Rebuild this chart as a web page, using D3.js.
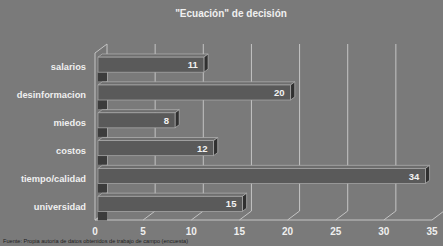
<!DOCTYPE html>
<html>
<head>
<meta charset="utf-8">
<script src="https://cdn.jsdelivr.net/npm/d3@7"></script>
<style>
  body { margin: 0; background: #7a7a7a; }
  svg { display: block; }
  text { font-family: "Liberation Sans", Arial, sans-serif; }
</style>
</head>
<body>
<svg id="chart" width="443" height="246"></svg>
<script>
// data
var categories = ["salarios", "desinformacion", "miedos", "costos", "tiempo/calidad", "universidad"]
var values = [11, 20, 8, 12, 34, 15]
var xTicks = [0, 5, 10, 15, 20, 25, 30, 35]
var title = "\"Ecuación\" de decisión"
var source = "Fuente: Propia autoría de datos obtenidos de trabajo de campo (encuesta)"

var svg = d3.select("#chart")

// front plane scales, depth goes back up-right
var x = d3.scaleLinear().domain([0, 35]).range([95, 432])
var y = d3.scaleBand().domain(categories).range([53, 220])
    .paddingInner(0.46).paddingOuter(0.23)
var depth = { dx: 12, dy: -9 }

function off(t) { return [depth.dx * t, depth.dy * t] }
function pts(arr) { return arr.map(p => p.join(",")).join(" ") }

var floorY = 220, topY = 53
var back = off(1)

// back wall gridlines + floor diagonals
var grid = svg.append("g").attr("stroke", "#c4c4c4").attr("stroke-width", 1).attr("fill", "none")
xTicks.forEach(v => {
    var xf = x(v), xb = x(v) + back[0]
    if (v > 0) {
        grid.append("line").attr("x1", xb).attr("x2", xb)
            .attr("y1", topY + back[1]).attr("y2", floorY + back[1])
    }
    grid.append("line").attr("x1", xf).attr("y1", floorY)
        .attr("x2", xb).attr("y2", floorY + back[1])
})
// floor front edge
grid.append("line").attr("x1", x(0)).attr("x2", x(35)).attr("y1", floorY).attr("y2", floorY)
// left wall
grid.append("polygon")
    .attr("points", pts([[x(0), floorY], [x(0), topY], [x(0) + back[0], topY + back[1]], [x(0) + back[0], floorY + back[1]]]))
    .attr("fill", "#767676")

// bars
var t0 = 0.25, t1 = 0.6
var f = off(t0), b = off(t1)
var bars = svg.append("g")
categories.forEach((c, i) => {
    var xs = x(0) + f[0], xe = x(values[i]) + f[0]
    var yt = y(c) + f[1], yb = y(c) + y.bandwidth() + f[1]
    var ddx = b[0] - f[0], ddy = b[1] - f[1]
    // shadow on the wall
    bars.append("rect").attr("x", xs).attr("y", yb)
        .attr("width", x(0) + back[0] - xs).attr("height", 9)
        .attr("fill", "#3c3c3c")
    // top face
    bars.append("polygon")
        .attr("points", pts([[xs, yt], [xs + ddx, yt + ddy], [xe + ddx, yt + ddy], [xe, yt]]))
        .attr("fill", "#6e6e6e").attr("stroke", "#b4b4b4").attr("stroke-width", 0.7)
    // end face
    bars.append("polygon")
        .attr("points", pts([[xe, yt], [xe + ddx, yt + ddy], [xe + ddx, yb + ddy], [xe, yb]]))
        .attr("fill", "#303030").attr("stroke", "#b4b4b4").attr("stroke-width", 0.7)
    // front face
    bars.append("rect").attr("x", xs).attr("y", yt)
        .attr("width", xe - xs).attr("height", yb - yt)
        .attr("fill", "#5a5a5a").attr("stroke", "#acacac").attr("stroke-width", 0.7)
    bars.append("text").attr("x", xe - 6).attr("y", (yt + yb) / 2 + 3.6)
        .attr("text-anchor", "end").attr("fill", "#f2f2f2")
        .attr("font-size", 9.5).attr("font-weight", "bold").text(values[i])
})

// category labels
svg.append("g").selectAll("text").data(categories).enter().append("text")
    .attr("x", 86).attr("y", d => y(d) + y.bandwidth() / 2 + 3.5)
    .attr("text-anchor", "end").attr("fill", "#efefef")
    .attr("font-size", 9.3).attr("font-weight", "bold").text(d => d)

// x tick labels
svg.append("g").selectAll("text").data(xTicks).enter().append("text")
    .attr("x", d => x(d)).attr("y", 235)
    .attr("text-anchor", "middle").attr("fill", "#efefef")
    .attr("font-size", 10).attr("font-weight", "bold").text(d => d)

// title
svg.append("text").attr("x", 231).attr("y", 17).attr("text-anchor", "middle")
    .attr("fill", "#f0f0f0").attr("font-size", 10).attr("font-weight", "bold").text(title)

// source
svg.append("text").attr("x", 3).attr("y", 243).attr("fill", "#1e1e1e")
    .attr("font-size", 5.6).text(source)
</script>
</body>
</html>
